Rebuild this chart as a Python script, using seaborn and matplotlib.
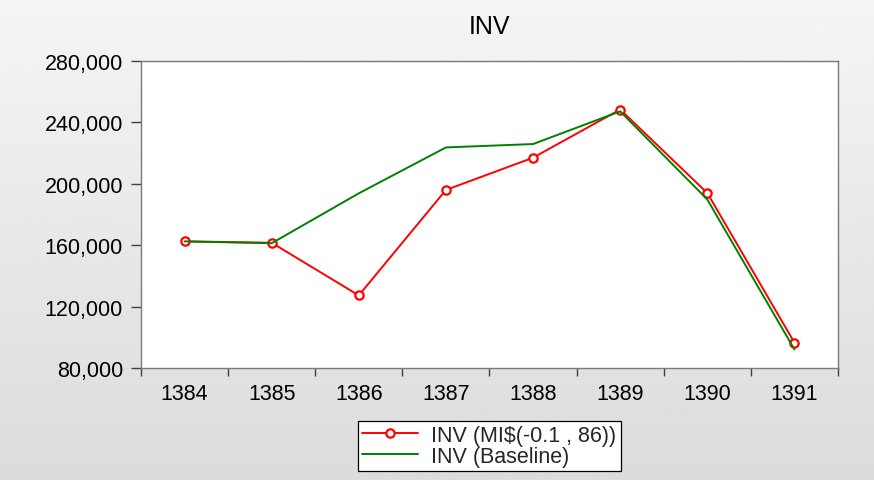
import matplotlib
matplotlib.use("Agg")
import matplotlib.pyplot as plt
import numpy as np
import pandas as pd
import seaborn as sns
from matplotlib.ticker import FixedLocator, FuncFormatter, NullFormatter

# ── Data ──────────────────────────────────────────────────────────────────────
years = [1384, 1385, 1386, 1387, 1388, 1389, 1390, 1391]
inv_mi = [162500, 161600, 127300, 196000, 217000, 248400, 194000, 96500]
inv_base = [162500, 161300, 193800, 223700, 225900, 247200, 189800, 92100]
label_mi = "INV (MI$(-0.1 , 86))"
label_base = "INV (Baseline)"
y_ticks = [80000, 120000, 160000, 200000, 240000, 280000]

df = pd.DataFrame({"year": years, "mi": inv_mi, "base": inv_base})

# ── Figure ────────────────────────────────────────────────────────────────────
sns.set_theme(style="white")
plt.rcParams["font.family"] = ["Liberation Sans", "DejaVu Sans"]
FS = 15.5

fig = plt.figure(figsize=(8.74, 4.81), dpi=100)

# grey gradient background
bg = fig.add_axes([0, 0, 1, 1], zorder=-10)
grad = np.linspace(0.96, 0.86, 256).reshape(-1, 1)
bg.imshow(grad, cmap="gray", vmin=0, vmax=1, aspect="auto", extent=[0, 1, 0, 1])
bg.set_axis_off()

ax = fig.add_axes([0.1613, 0.2328, 0.7975, 0.6383])
ax.set_facecolor("white")

sns.lineplot(data=df, x="year", y="mi", ax=ax, color="#ff0000", lw=1.4,
             marker="o", markersize=6, markerfacecolor="white",
             markeredgecolor="#ff0000", markeredgewidth=1.6,
             label=label_mi, zorder=2)
sns.lineplot(data=df, x="year", y="base", ax=ax, color="#008000", lw=1.4,
             label=label_base, zorder=3)

ax.set_xlim(years[0] - 0.5, years[-1] + 0.5)
ax.set_ylim(y_ticks[0], y_ticks[-1])

# x ticks at category boundaries, labels centred in between
ax.xaxis.set_major_locator(FixedLocator([y - 0.5 for y in years] + [years[-1] + 0.5]))
ax.xaxis.set_major_formatter(NullFormatter())
ax.xaxis.set_minor_locator(FixedLocator(years))
ax.xaxis.set_minor_formatter(FuncFormatter(lambda v, p: f"{int(round(v))}"))
ax.tick_params(axis="x", which="major", direction="out", length=6, width=1,
               color="#404040", bottom=True)
ax.tick_params(axis="x", which="minor", length=0, pad=11, labelsize=FS,
               labelcolor="black", bottom=True)

ax.set_yticks(y_ticks)
ax.yaxis.set_major_formatter(FuncFormatter(lambda v, p: f"{int(v):,}"))
ax.tick_params(axis="y", direction="out", length=7, width=1, color="#404040",
               pad=6, labelsize=FS, labelcolor="black", left=True)

for s in ax.spines.values():
    s.set_visible(True)
    s.set_color("#7a7a7a")
    s.set_linewidth(1.0)

ax.set_xlabel("")
ax.set_ylabel("")
ax.set_title("INV", fontsize=18, pad=20, color="black")

handles, labels = ax.get_legend_handles_labels()
ax.legend_.remove()
leg = fig.legend(handles, labels, loc="center", bbox_to_anchor=(0.56, 0.071),
                 fontsize=FS, frameon=True, fancybox=False, framealpha=1,
                 edgecolor="black", facecolor="white", labelspacing=0.0,
                 handlelength=2.6, borderpad=0.2, handletextpad=0.6,
                 borderaxespad=0)
leg.get_frame().set_linewidth(0.9)

fig.savefig("out.png", dpi=100)
